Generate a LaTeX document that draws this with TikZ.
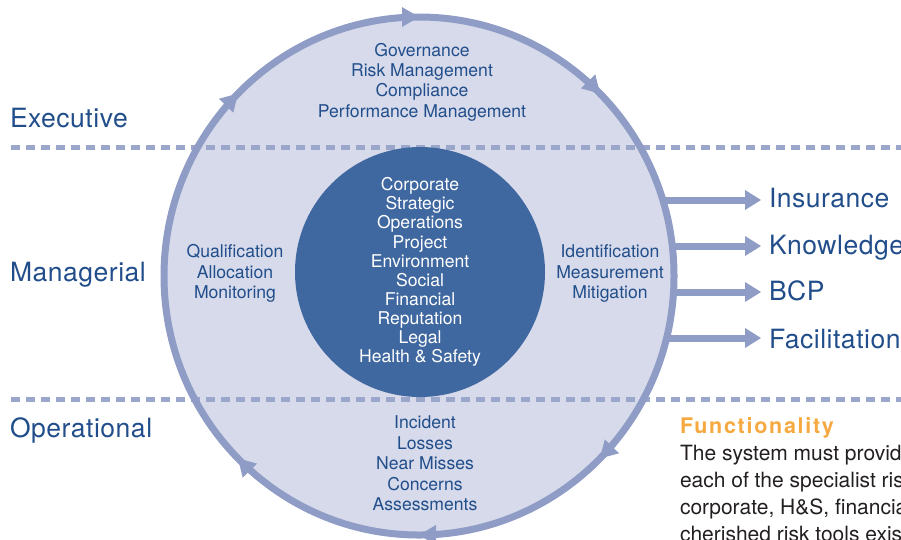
\documentclass[tikz,border=0pt]{standalone}
\usepackage{fontspec}
\setmainfont{TeX Gyre Heros}
\usetikzlibrary{arrows.meta,decorations.markings}

\definecolor{ringc}{HTML}{8E9CC6}
\definecolor{dashc}{HTML}{9AA6CA}
\definecolor{fillc}{HTML}{D6DAEA}
\definecolor{corec}{HTML}{3F67A0}
\definecolor{txtc}{HTML}{214E8B}
\definecolor{orangec}{HTML}{F7A941}
\definecolor{bodyc}{HTML}{231F20}

\begin{document}
\begin{tikzpicture}[x=1pt,y=-1pt,
  every node/.style={inner sep=0pt,outer sep=0pt},
  levellabel/.style={font=\fontsize{26.5}{30}\selectfont\addfontfeatures{LetterSpace=2},
    text=txtc,anchor=west,text height=19pt,text depth=0pt},
  block/.style={font=\fontsize{17.6}{20.4}\selectfont,text=txtc,align=center},
  dashline/.style={dashc,line width=5pt,dash pattern=on 9pt off 6pt},
  ringline/.style={ringc,line width=7pt},
  ringtip/.tip={Triangle[length=17pt,width=20pt,line width=0pt]},
  outarrow/.style={ringc,line width=7pt,shorten >=8pt,
    -{Triangle[length=16pt,width=20pt,line width=0pt]}},
  bodytext/.style={anchor=base west,text=bodyc,font=\fontsize{21}{27}\selectfont},
  ]
\useasboundingbox (0,0) rectangle (901,539);
\clip (0,0) rectangle (901,539);

% ring background
\coordinate (rc) at (419,276);
\fill[fillc] (rc) ellipse [x radius=255, y radius=259];

% level separators
\coordinate (d1a) at (11,147);  \coordinate (d1b) at (901,147);
\coordinate (d2a) at (11,399);  \coordinate (d2b) at (901,399);
\draw[dashline] (d1a) -- (d1b);
\draw[dashline] (d2a) -- (d2b);

% risk categories in the core
\node[circle,fill=corec,minimum size=250pt,text=white,align=center,
      font=\fontsize{17.6}{19.1}\selectfont] (core) at (420,272)
  {Corporate\\Strategic\\Operations\\Project\\Environment\\Social\\Financial\\Reputation\\Legal\\Health \& Safety};

% outputs on the right
\node[levellabel] (ins) at (769,197.5) {Insurance};
\node[levellabel] (know) at (769,245) {Knowledge};
\node[levellabel] (bcp) at (769,290.5) {BCP};
\node[levellabel] (fac) at (769,338.5) {Facilitation};
\coordinate (o1) at (663,200);
\coordinate (o2) at (672,246);
\coordinate (o3) at (673,292);
\coordinate (o4) at (667,338);
\draw[outarrow] (o1) -- (o1 -| ins.west);
\draw[outarrow] (o2) -- (o2 -| know.west);
\draw[outarrow] (o3) -- (o3 -| bcp.west);
\draw[outarrow] (o4) -- (o4 -| fac.west);

% cycle ring with direction marks
\draw[ringline,postaction={decorate},decoration={markings,
    mark=at position 0.125 with {\arrow[ringc]{ringtip}},
    mark=at position 0.25 with {\arrow[ringc]{ringtip}},
    mark=at position 0.375 with {\arrow[ringc]{ringtip}},
    mark=at position 0.625 with {\arrow[ringc]{ringtip}},
    mark=at position 0.75 with {\arrow[ringc]{ringtip}},
    mark=at position 0.875 with {\arrow[ringc]{ringtip}}}]
  (rc) ellipse [x radius=255, y radius=259];

% ring texts
\node[block] (exec) at (422,82) {Governance\\Risk Management\\Compliance\\Performance Management};
\node[block] (mgrl) at (235,273.5) {Qualification\\Allocation\\Monitoring};
\node[block] (mgrr) at (610,273.5) {Identification\\Measurement\\Mitigation};
\node[block] (oper) at (425,463.5) {Incident\\Losses\\Near Misses\\Concerns\\Assessments};

% level names
\node[levellabel] (lexec) at (10,117.5) {Executive};
\node[levellabel] (lmgr) at (10,271.5) {Managerial};
\node[levellabel] (lop) at (10,427.5) {Operational};

% side text
\node[anchor=base west,text=orangec,font=\fontsize{21.5}{26}\selectfont\bfseries\addfontfeatures{LetterSpace=8}] (func) at (680,433) {Functionality};
\node[bodytext] (b1) at (680,460) {The system must provide};
\node[bodytext] (b2) at (680,487) {each of the specialist risk};
\node[bodytext] (b3) at (680,514) {corporate, H\&S, financial};
\node[bodytext] (b4) at (680,541) {cherished risk tools exist};
\end{tikzpicture}
\end{document}
